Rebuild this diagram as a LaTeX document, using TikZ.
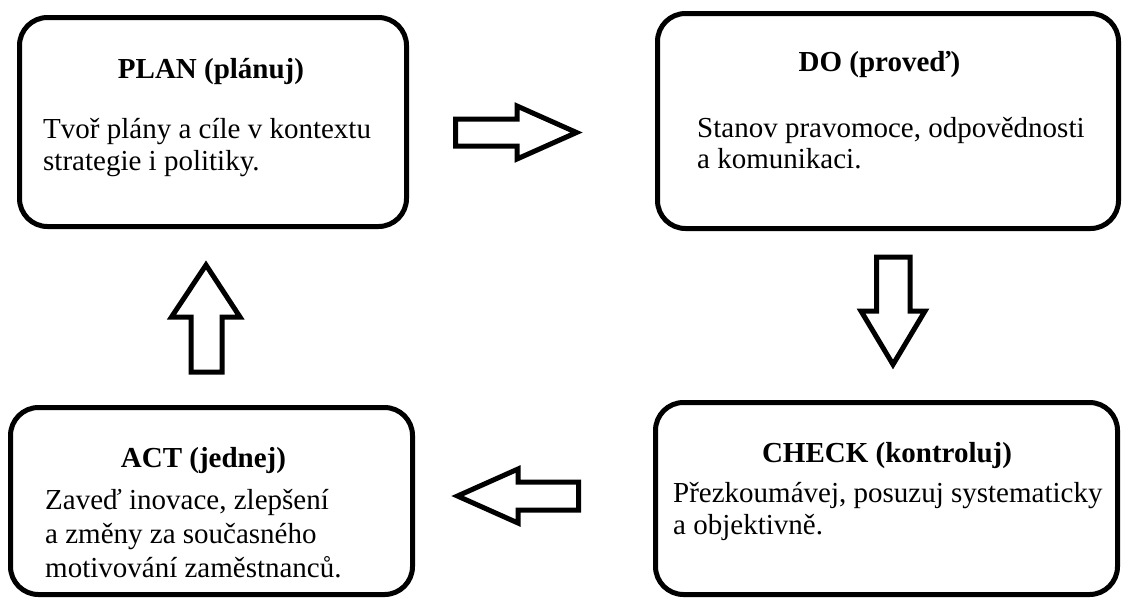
\documentclass[tikz,border=0pt]{standalone}
\usepackage{fontspec}
\setmainfont{Liberation Serif}
\begin{document}
\begin{tikzpicture}[x=1pt,y=-1pt,
  box/.style={draw, line width=5pt, rounded corners=28pt, inner sep=0pt},
  blockarrow/.style={draw, line width=5pt, line join=miter, fill=white},
  ttl/.style={font=\fontsize{29}{32}\selectfont\bfseries, anchor=base, inner sep=0pt},
  bodytext/.style={font=\fontsize{29}{32}\selectfont, anchor=base west, inner sep=0pt}]
\useasboundingbox (0,0) rectangle (1123,598);
% boxes
\node[box, minimum width=387pt, minimum height=209pt] (plan) at (213,122) {};
\node[box, minimum width=461pt, minimum height=215pt] (do) at (888,121) {};
\node[box, minimum width=462pt, minimum height=192pt] (check) at (886.5,498.5) {};
\node[box, minimum width=402pt, minimum height=187pt] (act) at (211.5,501) {};
% texts
\node[ttl] (plant) at (211,78) {PLAN (plánuj)};
\node[bodytext] (planb1) at (43,138) {Tvoř plány a cíle v kontextu};
\node[bodytext] (planb2) at (43,170) {strategie i politiky.};
\node[ttl] (dot) at (879.5,71) {DO (proveď)};
\node[bodytext] (dob1) at (697,137) {Stanov pravomoce, odpovědnosti};
\node[bodytext] (dob2) at (697,168) {a komunikaci.};
\node[ttl] (checkt) at (887,462) {CHECK (kontroluj)};
\node[bodytext] (checkb1) at (673,502) {Přezkoumávej, posuzuj systematicky};
\node[bodytext] (checkb2) at (673,534) {a objektivně.};
\node[ttl] (actt) at (203.5,467) {ACT (jednej)};
\node[bodytext] (actb1) at (45,509) {Zaveď inovace, zlepšení};
\node[bodytext] (actb2) at (45,543) {a změny za současného};
\node[bodytext] (actb3) at (45,577) {motivování zaměstnanců.};
% block arrows
\draw[blockarrow] (455.5,119) -- (517,119) -- (517,106) -- (576.5,132.5) -- (517,159) -- (517,146) -- (455.5,146) -- cycle;
\draw[blockarrow] (876.5,257) -- (910,257) -- (910,311) -- (925,311) -- (893,364.5) -- (861,311) -- (876.5,311) -- cycle;
\draw[blockarrow] (578.5,482) -- (518,482) -- (518,469) -- (457.5,496) -- (518,523) -- (518,510) -- (578.5,510) -- cycle;
\draw[blockarrow] (191,372) -- (222,372) -- (222,317) -- (240,317) -- (206,265) -- (171.5,317) -- (191,317) -- cycle;
\end{tikzpicture}
\end{document}
